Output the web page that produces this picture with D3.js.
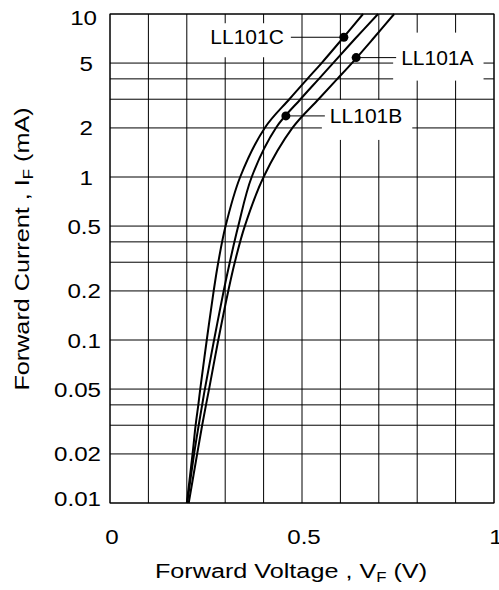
<html>
<head>
<meta charset="UTF-8">
<title>Forward characteristics</title>
<style>
  body { margin: 0; background: #ffffff; }
  svg text { font-family: "Liberation Sans", Arial, sans-serif; fill: #000; }
</style>
</head>
<body>
<svg id="chart" width="499" height="590"></svg>
<script src="https://d3js.org/d3.v7.min.js"></script>
<script>
// forward current (mA) at which each curve was read
var currents = [0.01, 0.02, 0.03, 0.04, 0.05, 0.1, 0.2, 0.3, 0.5, 1, 2, 3, 4, 5, 7, 10];
// forward voltage (V) of each type at those currents
var vC = [0.200, 0.215, 0.223, 0.230, 0.235, 0.252, 0.270, 0.282, 0.301, 0.339, 0.403, 0.467, 0.514, 0.551, 0.604, 0.659];
var vB = [0.201, 0.219, 0.231, 0.240, 0.247, 0.271, 0.296, 0.312, 0.334, 0.369, 0.432, 0.496, 0.544, 0.581, 0.637, 0.698];
var vA = [0.205, 0.227, 0.240, 0.250, 0.258, 0.282, 0.308, 0.325, 0.351, 0.400, 0.475, 0.543, 0.592, 0.630, 0.684, 0.740];

var seriesNames = ["LL101C", "LL101A", "LL101B"];
var markerV = [0.609, 0.641, 0.458];
var markerI = [7.2, 5.4, 2.37];

var xTicks = [0, 0.5, 1];
var xGrid = d3.range(0, 1.0001, 0.1);
var yTicks = [10, 5, 2, 1, 0.5, 0.2, 0.1, 0.05, 0.02, 0.01];
var yGrid = [0.01, 0.02, 0.03, 0.04, 0.05, 0.1, 0.2, 0.3, 0.4, 0.5, 1, 2, 3, 4, 5, 10];

var svg = d3.select("#chart");
var pLeft = 110, pRight = 494, pTop = 14, pBottom = 503;

var x = d3.scaleLinear().domain([0, 1]).range([pLeft, pRight]);
var y = d3.scaleLog().domain([0.01, 10]).range([pBottom, pTop]);

// grid
svg.append("g").selectAll("line").data(xGrid).enter().append("line")
    .attr("x1", function(d) { return x(d); }).attr("x2", function(d) { return x(d); })
    .attr("y1", pTop).attr("y2", pBottom)
    .attr("stroke", "#000").attr("stroke-width", 1);
svg.append("g").selectAll("line").data(yGrid).enter().append("line")
    .attr("x1", pLeft).attr("x2", pRight)
    .attr("y1", function(d) { return y(d); }).attr("y2", function(d) { return y(d); })
    .attr("stroke", "#000").attr("stroke-width", 1);

// tick labels
svg.append("g").selectAll("text").data(yTicks).enter().append("text")
    .attr("text-anchor", "end")
    .attr("font-size", 21)
    .attr("transform", function(d) {
        var cy = Math.max(17, Math.min(498, y(d)));
        var ex = d >= 10 ? 97 : (d >= 1 ? 93 : 101);
        return "translate(" + ex + "," + (cy + 7.5) + ") scale(1.15,1)";
    })
    .text(function(d) { return d; });
svg.append("g").selectAll("text").data(xTicks).enter().append("text")
    .attr("text-anchor", "middle")
    .attr("font-size", 21)
    .attr("transform", function(d) { return "translate(" + (x(d) + 2) + ",544) scale(1.15,1)"; })
    .text(function(d) { return d; });

// axis titles
var xt = svg.append("text").attr("text-anchor", "middle").attr("font-size", 21)
    .attr("transform", "translate(291,578) scale(1.2,1)");
xt.append("tspan").text("Forward Voltage , V");
xt.append("tspan").attr("font-size", 14).attr("dy", 4).text("F");
xt.append("tspan").attr("dy", -4).text(" (V)");

var yt = svg.append("text").attr("text-anchor", "middle").attr("font-size", 21)
    .attr("transform", "translate(29,249) rotate(-90) scale(1.2,1)");
yt.append("tspan").text("Forward Current , I");
yt.append("tspan").attr("font-size", 14).attr("dy", 4).text("F");
yt.append("tspan").attr("dy", -4).text("  (mA)");

// curves
var line = d3.line()
    .x(function(d) { return x(d[0]); })
    .y(function(d) { return y(d[1]); })
    .curve(d3.curveCatmullRom.alpha(0.5));

[vC, vB, vA].forEach(function(vs) {
    svg.append("path")
        .datum(vs.map(function(v, i) { return [v, currents[i]]; }))
        .attr("d", line)
        .attr("fill", "none")
        .attr("stroke", "#000")
        .attr("stroke-width", 2);
});

// labels with white boxes and leader lines
var labelOffset = [-60, 45, 44];
var boxTop = [-14, -25, -16], boxBottom = [20, 23, 24];
seriesNames.forEach(function(name, i) {
    var px = x(markerV[i]), py = y(markerI[i]);
    var g = svg.append("g");
    var box = g.append("rect").attr("fill", "#fff");
    var lead = g.append("line").attr("stroke", "#000").attr("stroke-width", 1);
    var t = g.append("text")
        .attr("x", px + labelOffset[i])
        .attr("y", py + 7)
        .attr("font-size", 21)
        .attr("text-anchor", labelOffset[i] < 0 ? "end" : "start")
        .text(name);
    var bb = t.node().getBBox();
    box.attr("x", bb.x - 8).attr("y", py + boxTop[i])
        .attr("width", bb.width + 18).attr("height", boxBottom[i] - boxTop[i]);
    lead.attr("x1", px).attr("y1", py)
        .attr("x2", labelOffset[i] < 0 ? bb.x + bb.width + 7 : bb.x - 5)
        .attr("y2", py);
    svg.append("circle").attr("cx", px).attr("cy", py).attr("r", 4.5).attr("fill", "#000");
});

// frame
svg.append("rect").attr("x", pLeft).attr("y", pTop)
    .attr("width", pRight - pLeft).attr("height", pBottom - pTop)
    .attr("fill", "none").attr("stroke", "#000").attr("stroke-width", 1);
</script>
</body>
</html>
